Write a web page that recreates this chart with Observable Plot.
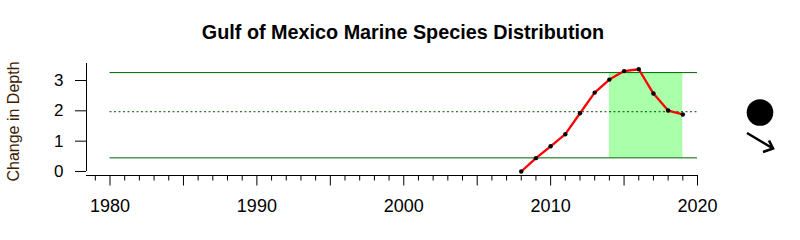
<!DOCTYPE html>
<html>
<head>
<meta charset="utf-8">
<script src="https://cdn.jsdelivr.net/npm/d3@7"></script>
<script src="https://cdn.jsdelivr.net/npm/@observablehq/plot@0.6"></script>
<style>
  html, body { margin: 0; padding: 0; background: white; }
  #wrap { position: relative; width: 800px; height: 240px; overflow: hidden; font-family: "Liberation Sans", Arial, sans-serif; }
  #title { position: absolute; left: 0; width: 806px; top: 22px; text-align: center; font-weight: bold; font-size: 19.8px; line-height: 20px; color: #000; }
  #chart { position: absolute; left: 0; top: 0; }
  #trend { position: absolute; left: 720px; top: 80px; }
</style>
</head>
<body>
<div id="wrap">
  <div id="chart"></div>
  <div id="title">Gulf of Mexico Marine Species Distribution</div>
  <svg id="trend" width="80" height="90"></svg>
</div>
<script>
// ---- data ----
const years  = [2008, 2009, 2010, 2011, 2012, 2013, 2014, 2015, 2016, 2017, 2018, 2019];
const values = [0.00, 0.44, 0.83, 1.23, 1.92, 2.60, 3.03, 3.31, 3.37, 2.57, 2.01, 1.88];
const sdLines = [3.26, 0.45];        // mean +/- 1 s.d.
const meanLine = [1.97];             // long-term mean
const highlightYears = [2014, 2019]; // last 5 years window
const decadeLabels = [1980, 1990, 2000, 2010, 2020];
const majorTicks = [1980, 1985, 1990, 1995, 2000, 2005, 2010, 2015, 2020];
const minorTicks = d3.range(1979, 2020).filter(y => y % 5 !== 0);
const yTicks = [0, 1, 2, 3];
const xDomain = [1978.4, 2020];
const yDomain = [-0.132, 3.56];
const refSpan = [1980, 2020];
const yLabel = "Change in Depth";

const series = years.map((y, i) => ({year: y, value: values[i]}));
const highlight = [{x1: highlightYears[0], x2: highlightYears[1], y1: sdLines[1], y2: sdLines[0]}];

const chart = Plot.plot({
  width: 800,
  height: 240,
  marginLeft: 86,
  marginRight: 103,
  marginTop: 63,
  marginBottom: 65,
  style: {fontFamily: "'Liberation Sans', Arial, sans-serif", fontSize: "16px", background: "white", color: "black"},
  x: {domain: xDomain, label: null},
  y: {domain: yDomain, label: null},
  marks: [
    Plot.rect(highlight, {x1: "x1", x2: "x2", y1: "y1", y2: "y2", fill: "#aaffaa"}),
    Plot.ruleY(sdLines, {x1: refSpan[0], x2: refSpan[1], stroke: "#006400", strokeWidth: 1}),
    Plot.ruleY(meanLine, {x1: refSpan[0], x2: refSpan[1], stroke: "#004d00", strokeWidth: 1, strokeDasharray: "2,2.5"}),
    Plot.line(series, {x: "year", y: "value", stroke: "#ff0000", strokeWidth: 2.3}),
    Plot.dot(series, {x: "year", y: "value", r: 2.2, fill: "black", stroke: "none"}),
    // axis lines
    Plot.ruleY([yDomain[0]], {x1: xDomain[0], x2: xDomain[1], stroke: "black"}),
    Plot.ruleX([xDomain[0]], {y1: 0, y2: yDomain[1], stroke: "black"}),
    // x axis ticks
    Plot.axisX({ticks: minorTicks, tickSize: 5.5, tickFormat: () => "", label: null}),
    Plot.axisX({ticks: majorTicks, tickSize: 10.5, tickFormat: () => "", label: null}),
    Plot.axisX({ticks: decadeLabels, tickSize: 0, tickPadding: 24, tickFormat: d => String(d), fontSize: 18, label: null}),
    // y axis
    Plot.axisY({ticks: yTicks, tickSize: 11, tickPadding: 12, tickFormat: d => String(d), fontSize: 17, label: null}),
    Plot.text([yLabel], {text: d => d, frameAnchor: "left", textAnchor: "middle", rotate: -90, dx: -73, dy: 2, fontSize: 16, fill: "#3d2000"})
  ]
});
document.getElementById("chart").appendChild(chart);

// trend symbols (right side)
const t = d3.select("#trend");
t.append("circle").attr("cx", 40).attr("cy", 32.5).attr("r", 13.3).attr("fill", "black");
t.append("line").attr("x1", 27).attr("y1", 53).attr("x2", 53).attr("y2", 68.5)
  .attr("stroke", "black").attr("stroke-width", 2.6);
t.append("polyline").attr("points", "49,60.5 53,68.5 43,72")
  .attr("fill", "none").attr("stroke", "black").attr("stroke-width", 2.6);
</script>
</body>
</html>
